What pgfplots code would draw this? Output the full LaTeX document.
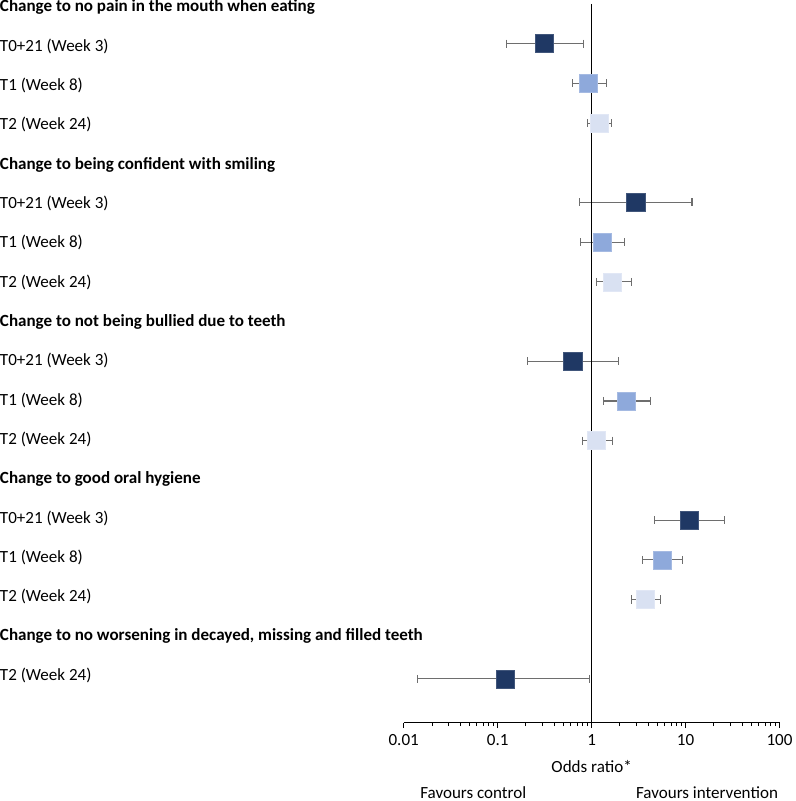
\documentclass[border=0pt]{standalone}
\usepackage{fontspec}
\setmainfont{Carlito}
\usepackage{pgfplots}
\pgfplotsset{compat=1.18}
\definecolor{navy}{HTML}{1F3864}
\definecolor{mid}{HTML}{8EA9DB}
\definecolor{light}{HTML}{D9E1F2}
\definecolor{errc}{HTML}{6E6E6E}
\newcommand\fs{\fontsize{17}{20}\selectfont}
\begin{document}
\begin{tikzpicture}[lab/.style={anchor=base west, inner sep=0pt, font=\fs, xshift=-403pt},
  hd/.style={anchor=base west, inner sep=0pt, font=\fs\bfseries, xshift=-403pt}]
\begin{axis}[
  scale only axis, width=375pt, height=717pt,
  xmode=log, xmin=0.01, xmax=100, ymin=-18.1, ymax=0,
  hide y axis, axis x line*=bottom,
  axis line style={-, black, line width=1.2pt},
  xtick={0.01,0.1,1,10,100}, xticklabels={0.01,0.1,1,10,100},
  tick align=outside, major tick length=5.5pt, minor tick length=3.5pt,
  every tick/.style={black, line width=0.9pt},
  ticklabel style={font=\fs},
  xticklabel style={yshift=-3pt},
  /pgf/number format/assume math mode=true,
  clip=false,
  ci/.style={errc, line width=1.1pt, mark=|, mark size=4pt, mark options={solid, line width=1.1pt}},
]
% confidence intervals
\addplot[ci] coordinates {(0.124,-1) (0.82,-1)};
\addplot[ci] coordinates {(0.62,-2) (1.45,-2)};
\addplot[ci] coordinates {(0.90,-3) (1.61,-3)};
\addplot[ci] coordinates {(0.745,-5) (11.7,-5)};
\addplot[ci] coordinates {(0.76,-6) (2.23,-6)};
\addplot[ci] coordinates {(1.12,-7) (2.63,-7)};
\addplot[ci] coordinates {(0.21,-9) (1.94,-9)};
\addplot[ci] coordinates {(1.35,-10) (4.22,-10)};
\addplot[ci] coordinates {(0.80,-11) (1.65,-11)};
\addplot[ci] coordinates {(4.62,-13) (25.8,-13)};
\addplot[ci] coordinates {(3.5,-14) (9.35,-14)};
\addplot[ci] coordinates {(2.65,-15) (5.36,-15)};
\addplot[ci] coordinates {(0.0139,-17) (0.94,-17)};
% point estimates
\addplot[only marks, mark=square*, mark size=9pt, mark options={fill=navy, draw=navy!85!white, line width=0.5pt}]
  coordinates {(0.31,-1) (2.95,-5) (0.63,-9) (10.9,-13) (0.121,-17)};
\addplot[only marks, mark=square*, mark size=9pt, mark options={fill=mid, draw=mid!80!white, line width=0.5pt}]
  coordinates {(0.92,-2) (1.3,-6) (2.36,-10) (5.67,-14)};
\addplot[only marks, mark=square*, mark size=9pt, mark options={fill=light, draw=light!80!white, line width=0.5pt}]
  coordinates {(1.2,-3) (1.67,-7) (1.13,-11) (3.73,-15)};
% line of no effect
\addplot[black, line width=1.7pt] coordinates {(1,0) (1,-18.1)};
% labels
\node[hd]  at (rel axis cs:0,1) [yshift=-8pt]      {Change to no pain in the mouth when eating};
\node[lab] at (rel axis cs:0,1) [yshift=-47.2pt]   {T0+21 (Week 3)};
\node[lab] at (rel axis cs:0,1) [yshift=-86.4pt]   {T1 (Week 8)};
\node[lab] at (rel axis cs:0,1) [yshift=-125.7pt]  {T2 (Week 24)};
\node[hd]  at (rel axis cs:0,1) [yshift=-164.9pt]  {Change to being confident with smiling};
\node[lab] at (rel axis cs:0,1) [yshift=-204.1pt]  {T0+21 (Week 3)};
\node[lab] at (rel axis cs:0,1) [yshift=-243.3pt]  {T1 (Week 8)};
\node[lab] at (rel axis cs:0,1) [yshift=-282.5pt]  {T2 (Week 24)};
\node[hd]  at (rel axis cs:0,1) [yshift=-321.8pt]  {Change to not being bullied due to teeth};
\node[lab] at (rel axis cs:0,1) [yshift=-361pt]    {T0+21 (Week 3)};
\node[lab] at (rel axis cs:0,1) [yshift=-400.2pt]  {T1 (Week 8)};
\node[lab] at (rel axis cs:0,1) [yshift=-439.4pt]  {T2 (Week 24)};
\node[hd]  at (rel axis cs:0,1) [yshift=-478.6pt]  {Change to good oral hygiene};
\node[lab] at (rel axis cs:0,1) [yshift=-517.9pt]  {T0+21 (Week 3)};
\node[lab] at (rel axis cs:0,1) [yshift=-557.1pt]  {T1 (Week 8)};
\node[lab] at (rel axis cs:0,1) [yshift=-596.3pt]  {T2 (Week 24)};
\node[hd]  at (rel axis cs:0,1) [yshift=-635.5pt]  {Change to no worsening in decayed, missing and filled teeth};
\node[lab] at (rel axis cs:0,1) [yshift=-674.7pt]  {T2 (Week 24)};
\node[font=\fs, anchor=base, inner sep=0pt] at (axis cs:1,-18.1) [yshift=-50pt] {Odds ratio*};
\node[font=\fs, anchor=base, inner sep=0pt] at (axis cs:0.055,-18.1) [yshift=-75.5pt] {Favours control\vphantom{p}};
\node[font=\fs, anchor=base, inner sep=0pt] at (axis cs:16.9,-18.1) [yshift=-75.5pt] {Favours intervention\vphantom{p}};
\end{axis}
\end{tikzpicture}
\end{document}
